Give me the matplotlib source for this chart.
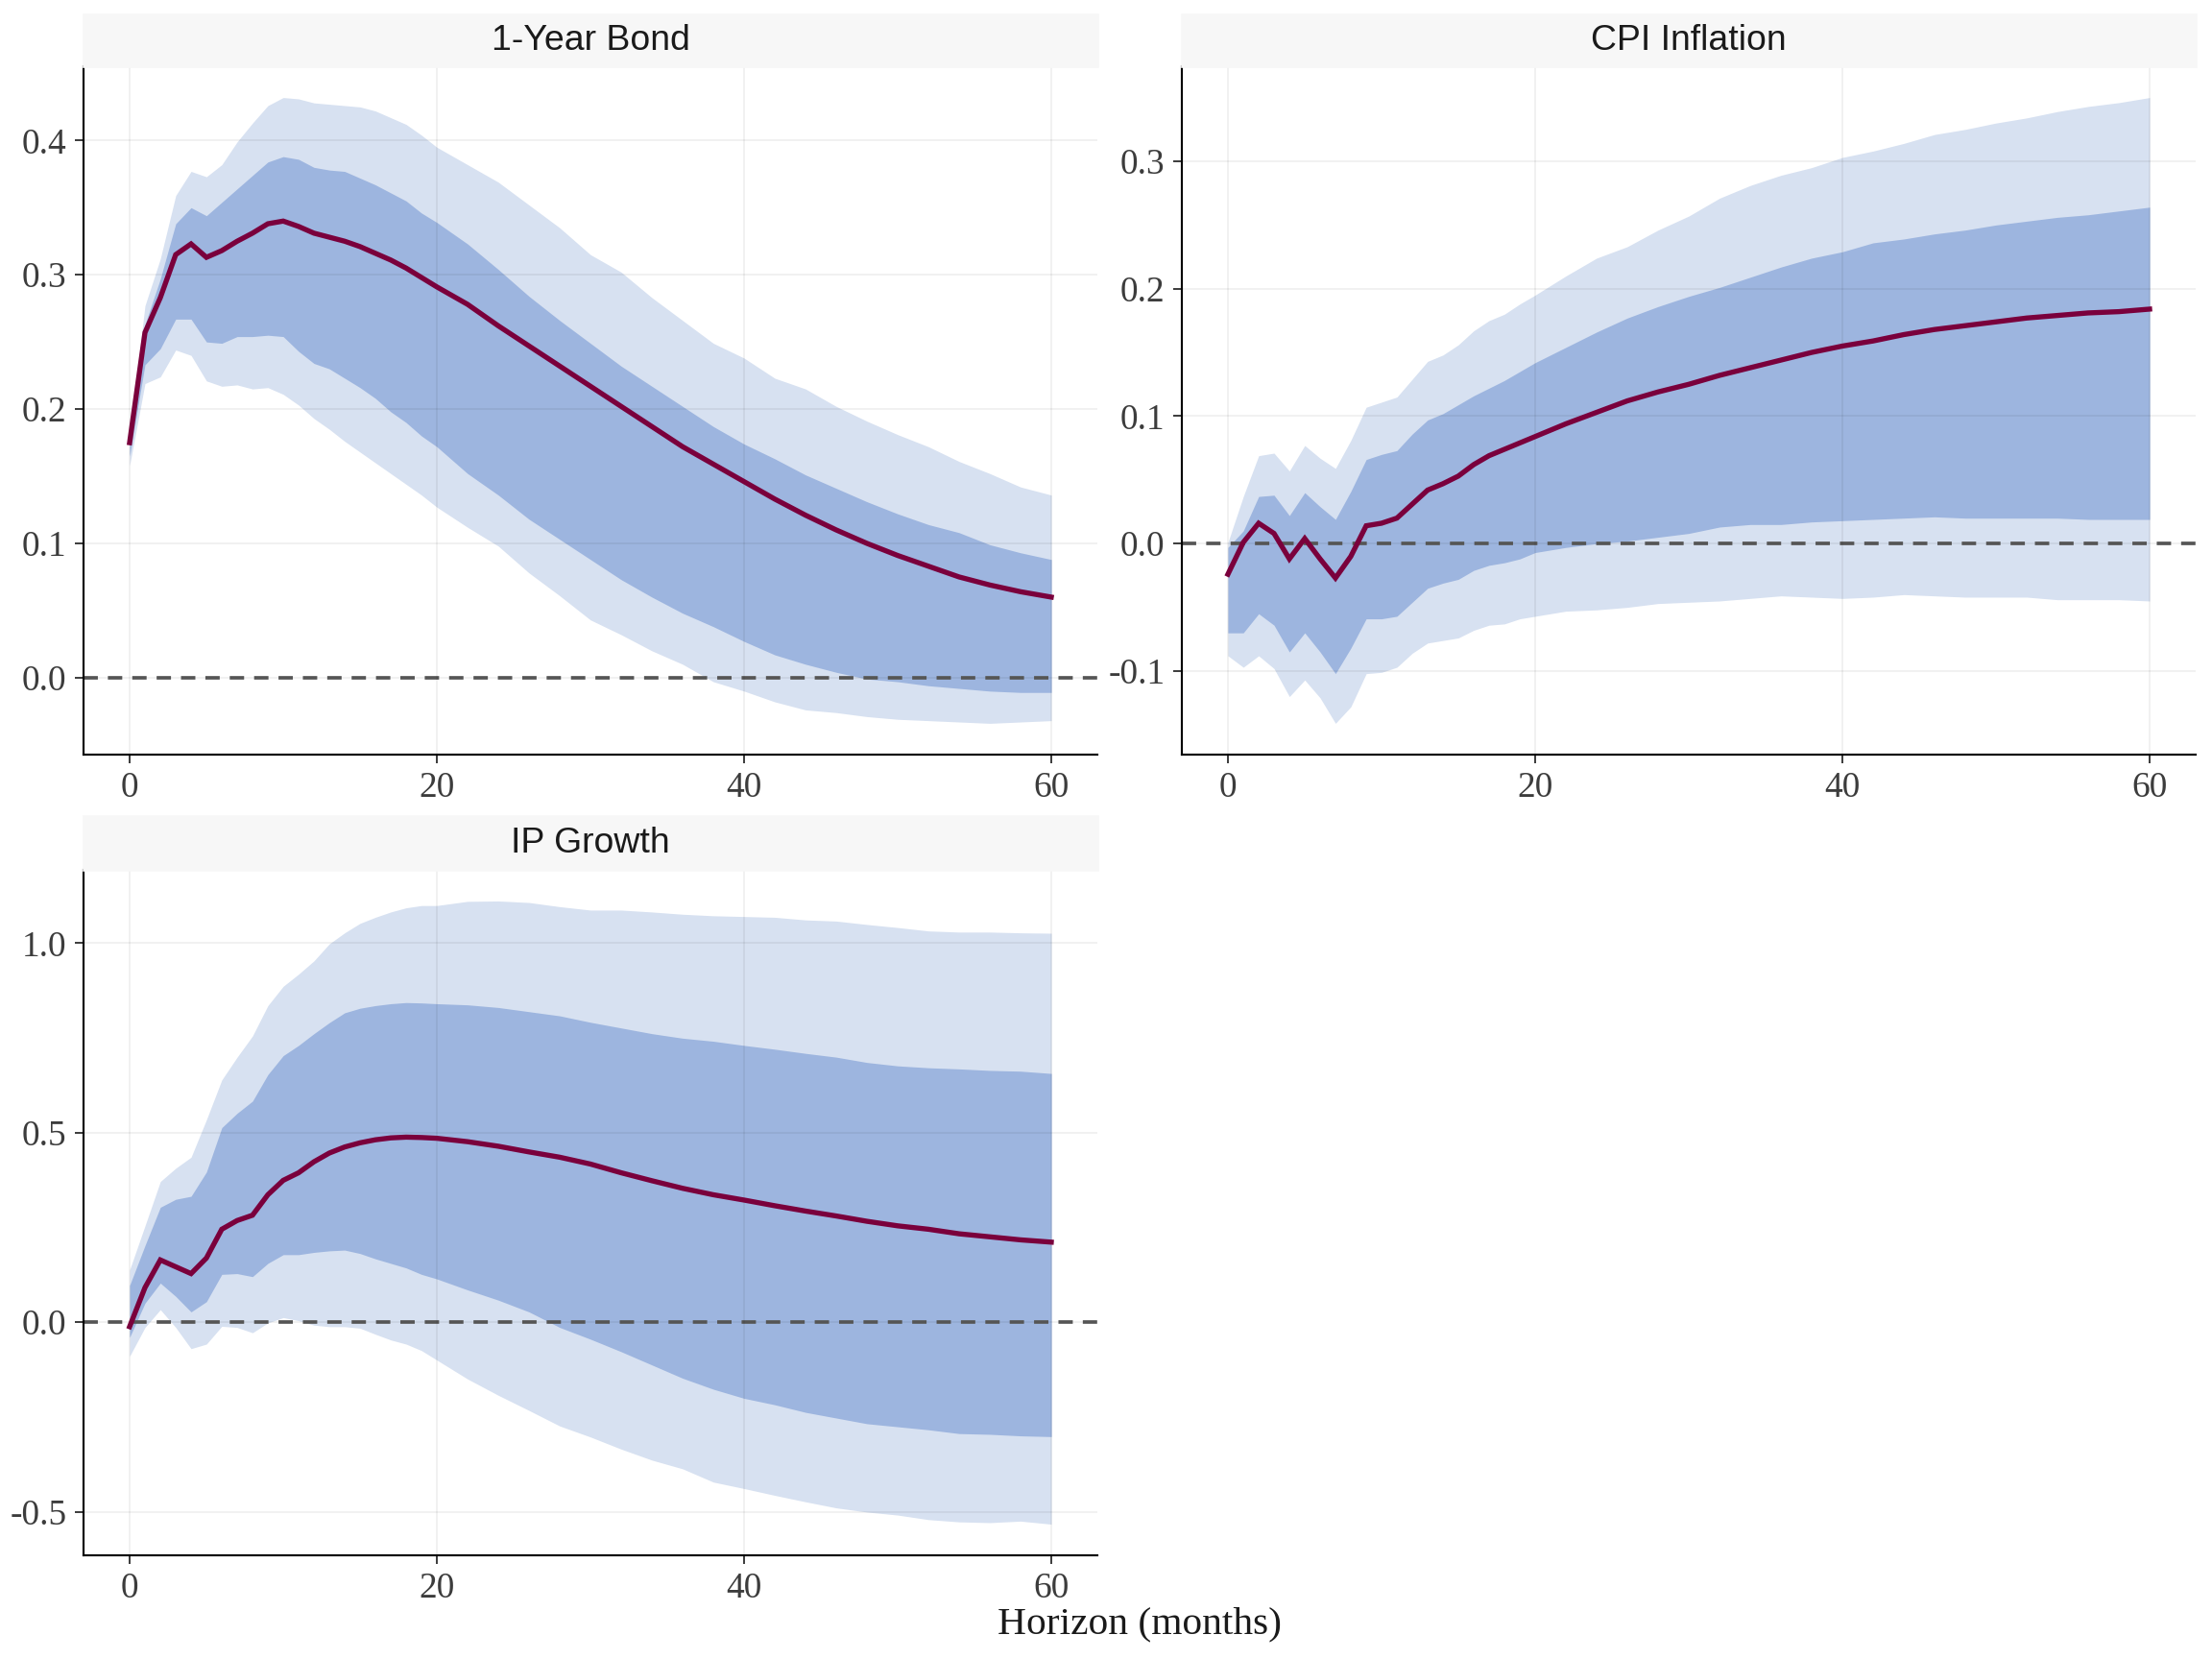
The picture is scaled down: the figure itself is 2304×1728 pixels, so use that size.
import matplotlib
matplotlib.use("Agg")
import matplotlib.pyplot as plt
from matplotlib.patches import Rectangle
import numpy as np

plt.rcParams['axes.unicode_minus'] = False

# Horizons (months) at which the bands were read
horizon = list(range(0, 21)) + list(range(22, 61, 2))

# 1-Year Bond
bond_med = [0.175, 0.257, 0.283, 0.315, 0.323, 0.313, 0.318, 0.325, 0.331, 0.338, 0.340, 0.336, 0.331, 0.328, 0.325, 0.321, 0.316, 0.311, 0.305, 0.298, 0.291,
            0.278, 0.262, 0.247, 0.232, 0.217,
            0.202, 0.187, 0.172, 0.159, 0.146, 0.133, 0.121, 0.110, 0.100, 0.091, 0.083, 0.075, 0.069, 0.064, 0.060]
bond_hi95 = [0.180, 0.277, 0.312, 0.359, 0.377, 0.373, 0.382, 0.399, 0.413, 0.426, 0.432, 0.431, 0.428, 0.427, 0.426, 0.425, 0.422, 0.417, 0.412, 0.404, 0.395,
             0.382, 0.369, 0.352, 0.335, 0.315,
             0.302, 0.283, 0.266, 0.249, 0.238, 0.223, 0.215, 0.202, 0.191, 0.181, 0.172, 0.161, 0.152, 0.142, 0.136]
bond_hi68 = [0.177, 0.263, 0.297, 0.338, 0.350, 0.344, 0.354, 0.364, 0.374, 0.384, 0.388, 0.386, 0.380, 0.378, 0.377, 0.372, 0.367, 0.361, 0.355, 0.346, 0.339,
             0.323, 0.304, 0.284, 0.266, 0.249,
             0.232, 0.217, 0.202, 0.187, 0.174, 0.163, 0.151, 0.141, 0.131, 0.122, 0.114, 0.108, 0.099, 0.093, 0.088]
bond_lo68 = [0.165, 0.233, 0.245, 0.267, 0.267, 0.250, 0.249, 0.254, 0.254, 0.255, 0.254, 0.243, 0.234, 0.230, 0.223, 0.216, 0.208, 0.198, 0.190, 0.180, 0.172,
             0.152, 0.136, 0.118, 0.103, 0.088,
             0.073, 0.060, 0.048, 0.038, 0.027, 0.017, 0.010, 0.004, -0.001, -0.003, -0.006, -0.008, -0.010, -0.011, -0.011]
bond_lo95 = [0.158, 0.219, 0.224, 0.244, 0.240, 0.221, 0.217, 0.218, 0.215, 0.216, 0.211, 0.203, 0.193, 0.185, 0.176, 0.168, 0.160, 0.152, 0.144, 0.136, 0.127,
             0.112, 0.098, 0.078, 0.061, 0.043,
             0.032, 0.020, 0.010, -0.003, -0.010, -0.018, -0.024, -0.026, -0.029, -0.031, -0.032, -0.033, -0.034, -0.033, -0.032]

# CPI Inflation
cpi_med = [-0.024, 0.001, 0.016, 0.008, -0.012, 0.004, -0.012, -0.027, -0.010, 0.014, 0.016, 0.020, 0.031, 0.042, 0.047, 0.053, 0.062, 0.069, 0.074, 0.079, 0.084,
           0.094, 0.103, 0.112, 0.119, 0.125,
           0.132, 0.138, 0.144, 0.150, 0.155, 0.159, 0.164, 0.168, 0.171, 0.174, 0.177, 0.179, 0.181, 0.182, 0.184]
cpi_hi95 = [0.001, 0.037, 0.069, 0.071, 0.057, 0.077, 0.067, 0.059, 0.081, 0.107, 0.111, 0.115, 0.129, 0.143, 0.148, 0.156, 0.167, 0.175, 0.180, 0.188, 0.195,
            0.210, 0.224, 0.233, 0.246, 0.257,
            0.271, 0.281, 0.289, 0.295, 0.303, 0.308, 0.314, 0.321, 0.325, 0.330, 0.334, 0.339, 0.343, 0.346, 0.350]
cpi_hi68 = [-0.003, 0.010, 0.037, 0.038, 0.022, 0.040, 0.029, 0.019, 0.041, 0.066, 0.070, 0.073, 0.086, 0.097, 0.102, 0.109, 0.116, 0.122, 0.128, 0.135, 0.142,
            0.154, 0.166, 0.177, 0.186, 0.194,
            0.201, 0.209, 0.217, 0.224, 0.229, 0.236, 0.239, 0.243, 0.246, 0.250, 0.253, 0.256, 0.258, 0.261, 0.264]
cpi_lo68 = [-0.070, -0.070, -0.055, -0.064, -0.085, -0.070, -0.085, -0.102, -0.082, -0.059, -0.059, -0.057, -0.046, -0.035, -0.031, -0.028, -0.021, -0.017, -0.015, -0.012, -0.007,
            -0.003, 0.000, 0.002, 0.005, 0.008,
            0.013, 0.015, 0.015, 0.017, 0.018, 0.019, 0.020, 0.021, 0.020, 0.020, 0.020, 0.020, 0.019, 0.019, 0.019]
cpi_lo95 = [-0.088, -0.097, -0.088, -0.098, -0.120, -0.107, -0.121, -0.141, -0.128, -0.102, -0.101, -0.097, -0.086, -0.078, -0.076, -0.074, -0.068, -0.064, -0.063, -0.059, -0.057,
            -0.053, -0.052, -0.050, -0.047, -0.046,
            -0.045, -0.043, -0.041, -0.042, -0.043, -0.042, -0.040, -0.041, -0.042, -0.042, -0.042, -0.044, -0.044, -0.044, -0.045]

# IP Growth
ip_med = [-0.012, 0.091, 0.164, 0.146, 0.128, 0.169, 0.245, 0.268, 0.282, 0.336, 0.374, 0.394, 0.423, 0.446, 0.462, 0.473, 0.481, 0.486, 0.488, 0.487, 0.485,
          0.476, 0.464, 0.449, 0.435, 0.417,
          0.394, 0.373, 0.353, 0.336, 0.322, 0.307, 0.293, 0.280, 0.266, 0.254, 0.245, 0.233, 0.225, 0.217, 0.211]
ip_hi95 = [0.138, 0.254, 0.371, 0.406, 0.435, 0.534, 0.639, 0.699, 0.755, 0.835, 0.886, 0.918, 0.953, 0.998, 1.027, 1.052, 1.068, 1.082, 1.093, 1.099, 1.099,
           1.110, 1.111, 1.107, 1.096, 1.087,
           1.087, 1.082, 1.076, 1.072, 1.070, 1.068, 1.061, 1.058, 1.049, 1.041, 1.032, 1.029, 1.029, 1.027, 1.026]
ip_hi68 = [0.097, 0.202, 0.303, 0.324, 0.332, 0.396, 0.513, 0.551, 0.583, 0.653, 0.703, 0.730, 0.761, 0.790, 0.816, 0.828, 0.835, 0.840, 0.843, 0.842, 0.840,
           0.837, 0.830, 0.819, 0.808, 0.791,
           0.776, 0.761, 0.749, 0.741, 0.730, 0.720, 0.709, 0.699, 0.685, 0.676, 0.671, 0.668, 0.664, 0.662, 0.656]
ip_lo68 = [-0.040, 0.050, 0.103, 0.068, 0.027, 0.054, 0.126, 0.128, 0.120, 0.155, 0.178, 0.178, 0.184, 0.188, 0.190, 0.181, 0.167, 0.155, 0.143, 0.126, 0.114,
           0.085, 0.058, 0.027, -0.014, -0.045,
           -0.078, -0.113, -0.148, -0.177, -0.201, -0.218, -0.238, -0.253, -0.268, -0.276, -0.284, -0.294, -0.296, -0.300, -0.302]
ip_lo95 = [-0.090, -0.014, 0.033, -0.014, -0.070, -0.058, -0.011, -0.014, -0.028, -0.002, 0.012, 0.004, -0.008, -0.012, -0.012, -0.016, -0.032, -0.047, -0.058, -0.075, -0.100,
           -0.150, -0.193, -0.233, -0.274, -0.303,
           -0.335, -0.364, -0.387, -0.422, -0.439, -0.457, -0.474, -0.490, -0.501, -0.509, -0.521, -0.527, -0.529, -0.525, -0.533]

x_ticks = [0, 20, 40, 60]

LIGHT = '#D7E1F1'
DARK = '#9DB5DF'
LINE = '#7A003C'
SERIF = ['Liberation Serif', 'DejaVu Serif']
SANS = ['Liberation Sans', 'DejaVu Sans']

W, H = 2304, 1728
fig = plt.figure(figsize=(12, 9), dpi=192)


def panel(rect, strip, title, med, lo95, hi95, lo68, hi68, yticks):
    ax = fig.add_axes(rect)
    ax.fill_between(horizon, lo95, hi95, color=LIGHT, lw=0, zorder=1)
    ax.fill_between(horizon, lo68, hi68, color=DARK, lw=0, zorder=1.2)
    ax.plot(horizon, med, color=LINE, lw=2.0, zorder=3, solid_joinstyle='miter')
    ax.axhline(0, color='#5A5A5A', lw=1.4, ls=(0, (4, 2.8)), zorder=2.5)
    ax.margins(x=0.05, y=0.05)
    ax.set_xticks(x_ticks)
    ax.set_yticks(yticks)
    ax.set_yticklabels([f"{v:.1f}" for v in yticks])
    ax.grid(True, color='black', alpha=0.06, lw=0.7, zorder=1.5)
    ax.set_axisbelow(False)
    for s in ['top', 'right']:
        ax.spines[s].set_visible(False)
    for s in ['left', 'bottom']:
        ax.spines[s].set_linewidth(0.8)
        ax.spines[s].set_zorder(4)
    ax.tick_params(length=3.5, width=0.7, color='#333333', labelcolor='#3C3C3C',
                   labelsize=14, pad=3)
    for lab in ax.get_xticklabels() + ax.get_yticklabels():
        lab.set_family(SERIF)
    # facet strip
    fig.patches.append(Rectangle((strip[0], strip[1]), strip[2], strip[3],
                                 transform=fig.transFigure, color='#F7F7F7', zorder=0))
    fig.text(strip[0] + strip[2] / 2, strip[1] + strip[3] / 2, title,
             ha='center', va='center', fontsize=14, family=SANS, color='#1A1A1A')
    return ax


pw = (1143 - 87) / W
panel([87 / W, 1 - 786 / H, pw, (786 - 69) / H],
      [87 / W, 1 - 69 / H, pw, 54 / H], '1-Year Bond',
      bond_med, bond_lo95, bond_hi95, bond_lo68, bond_hi68, [0.0, 0.1, 0.2, 0.3, 0.4])
panel([1231 / W, 1 - 786 / H, pw, (786 - 69) / H],
      [1231 / W, 1 - 69 / H, pw, 54 / H], 'CPI Inflation',
      cpi_med, cpi_lo95, cpi_hi95, cpi_lo68, cpi_hi68, [-0.1, 0.0, 0.1, 0.2, 0.3])
panel([87 / W, 1 - 1620 / H, pw, (1620 - 906) / H],
      [87 / W, 1 - 906 / H, pw, 56 / H], 'IP Growth',
      ip_med, ip_lo95, ip_hi95, ip_lo68, ip_hi68, [-0.5, 0.0, 0.5, 1.0])

fig.text(1187 / W, 1 - 1692 / H, 'Horizon (months)', ha='center', va='center',
         fontsize=15.5, family=SERIF, color='#1A1A1A')

fig.savefig('out.png', dpi=192)
